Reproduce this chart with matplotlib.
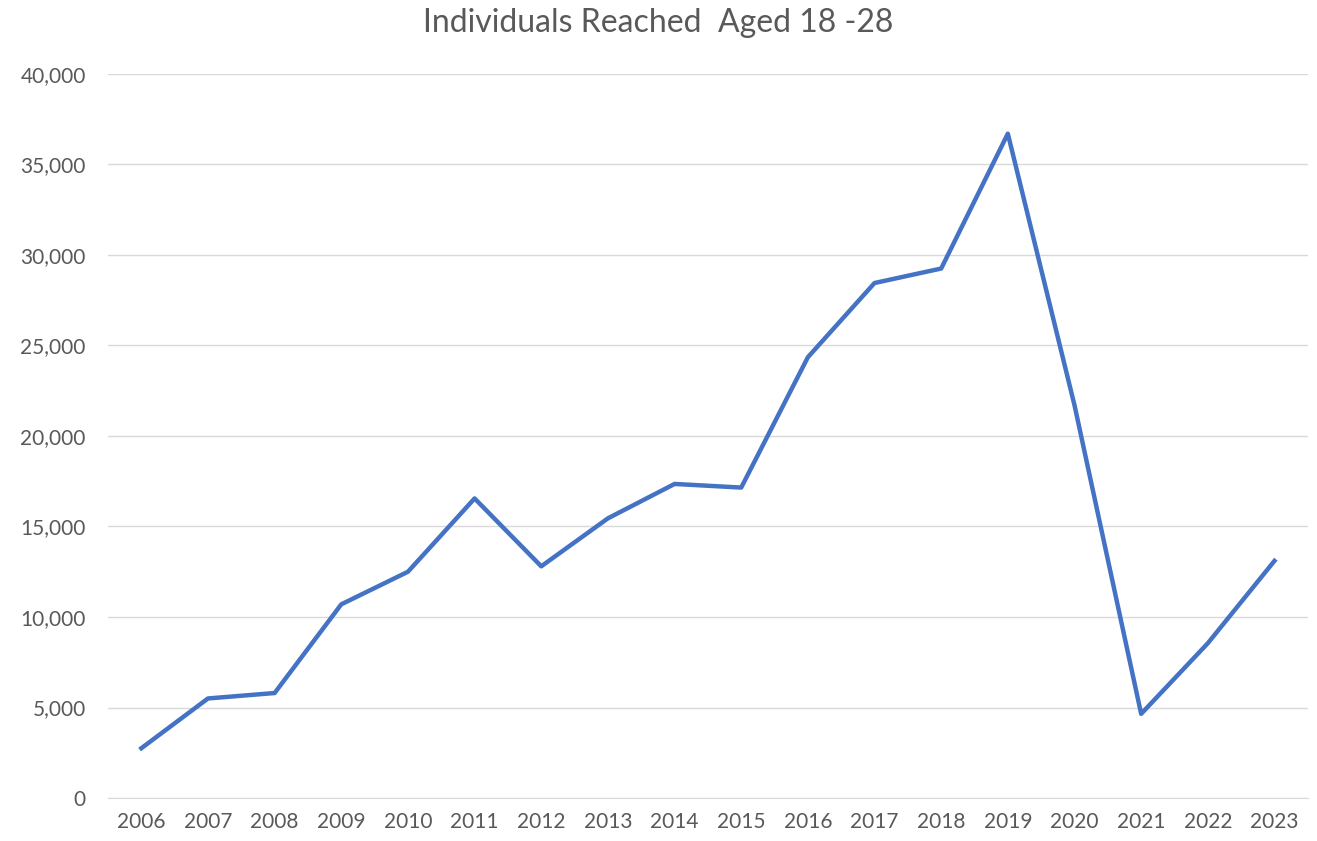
import matplotlib
matplotlib.use("Agg")
import matplotlib.pyplot as plt
from matplotlib.ticker import FuncFormatter

years = [str(y) for y in range(2006, 2024)]
individuals = [2750, 5500, 5800, 10700, 12500, 16550, 12800, 15450, 17350, 17150,
               24350, 28450, 29250, 36700, 21700, 4650, 8550, 13100]

plt.rcParams["font.family"] = ["Lato", "DejaVu Sans"]

fig = plt.figure(figsize=(13.17, 8.41), dpi=100)
ax = fig.add_axes([0.082, 0.0511, 0.911, 0.861])

x = range(len(years))
ax.plot(x, individuals, color="#4472C4", linewidth=3.2, solid_joinstyle="round")

ax.set_xlim(-0.5, len(years) - 0.5)
ax.set_ylim(0, 40000)
ax.set_yticks(range(0, 40001, 5000))
ax.yaxis.set_major_formatter(FuncFormatter(lambda v, p: f"{int(v):,}"))
ax.set_xticks(list(x))
ax.set_xticklabels(years)

ax.grid(axis="y", color="#D9D9D9", linewidth=1)
ax.set_axisbelow(True)
for s in ["top", "right", "left"]:
    ax.spines[s].set_visible(False)
ax.spines["bottom"].set_color("#D9D9D9")
ax.tick_params(axis="both", length=0, labelsize=15, colors="#595959", pad=10)
ax.tick_params(axis="y", pad=16)

fig.suptitle("Individuals Reached  Aged 18 -28", y=0.99, fontsize=23, color="#595959")

fig.savefig("out.png", dpi=100)
